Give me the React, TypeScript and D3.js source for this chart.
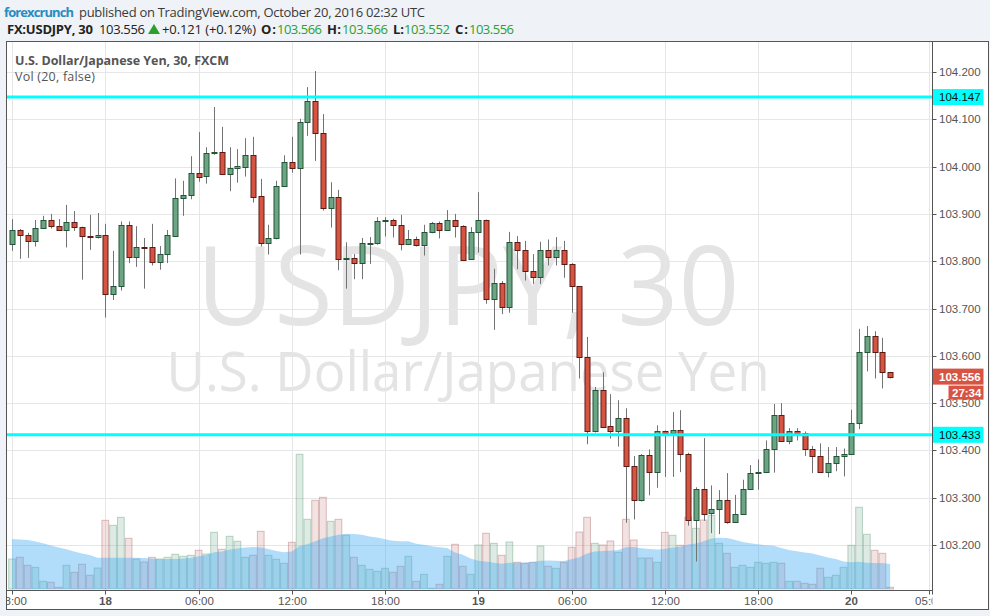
import React from 'react';
import * as d3 from 'd3';

const W = 990;
const H = 616;
const START = Date.UTC(2016, 9, 17, 18, 0);
const BAR_MS = 30 * 60 * 1000;

const openP = [
  103.836, 103.865, 103.855, 103.842, 103.870, 103.887, 103.874, 103.865, 103.882, 103.872, 103.853, 103.851,
  103.855, 103.730, 103.747, 103.876, 103.808, 103.829, 103.829, 103.798, 103.815, 103.854, 103.933, 103.939,
  103.986, 103.980, 104.028, 104.030, 103.985, 103.996, 104.000, 104.024, 103.937, 103.839, 103.848, 103.958,
  104.010, 103.996, 104.094, 104.138, 104.070, 103.912, 103.935, 103.804, 103.806, 103.797, 103.838, 103.838,
  103.884, 103.887, 103.876, 103.836, 103.846, 103.834, 103.861, 103.880, 103.865, 103.887, 103.874, 103.804,
  103.861, 103.887, 103.720, 103.753, 103.703, 103.840, 103.823, 103.779, 103.767, 103.823, 103.808, 103.823,
  103.794, 103.747, 103.597, 103.440, 103.527, 103.451, 103.440, 103.468, 103.366, 103.295, 103.390, 103.354,
  103.440, 103.437, 103.443, 103.392, 103.252, 103.318, 103.267, 103.276, 103.295, 103.248, 103.265, 103.318,
  103.352, 103.354, 103.402, 103.474, 103.419, 103.440, 103.436, 103.402, 103.388, 103.354, 103.373, 103.388,
  103.392, 103.457, 103.607, 103.641, 103.607, 103.566,
];
const highP = [
  103.889, 103.868, 103.860, 103.887, 103.896, 103.900, 103.889, 103.919, 103.906, 103.873, 103.898, 103.902,
  103.879, 103.822, 103.884, 103.884, 103.874, 103.849, 103.879, 103.832, 103.866, 103.975, 103.970, 104.022,
  104.073, 104.041, 104.126, 104.084, 104.041, 104.037, 104.060, 104.063, 103.974, 103.877, 103.970, 104.024,
  104.063, 104.101, 104.168, 104.202, 104.111, 103.967, 103.951, 103.840, 103.815, 103.849, 103.851, 103.893,
  103.893, 103.890, 103.898, 103.866, 103.852, 103.877, 103.883, 103.884, 103.908, 103.900, 103.876, 103.872,
  103.946, 103.888, 103.784, 103.758, 103.862, 103.853, 103.843, 103.815, 103.841, 103.846, 103.851, 103.843,
  103.796, 103.747, 103.640, 103.534, 103.565, 103.519, 103.506, 103.489, 103.388, 103.392, 103.402, 103.453,
  103.442, 103.481, 103.485, 103.395, 103.322, 103.426, 103.326, 103.316, 103.352, 103.306, 103.338, 103.369,
  103.381, 103.421, 103.498, 103.500, 103.447, 103.447, 103.440, 103.409, 103.415, 103.407, 103.407, 103.404,
  103.486, 103.657, 103.663, 103.652, 103.638, 103.566,
];
const lowP = [
  103.822, 103.805, 103.807, 103.831, 103.868, 103.869, 103.864, 103.829, 103.864, 103.761, 103.824, 103.848,
  103.681, 103.718, 103.738, 103.796, 103.788, 103.742, 103.791, 103.782, 103.796, 103.852, 103.896, 103.931,
  103.968, 103.964, 104.025, 103.983, 103.948, 103.966, 103.979, 103.924, 103.831, 103.814, 103.846, 103.957,
  103.987, 103.814, 104.065, 104.012, 103.907, 103.871, 103.781, 103.742, 103.762, 103.762, 103.794, 103.835,
  103.852, 103.850, 103.823, 103.834, 103.831, 103.812, 103.859, 103.848, 103.864, 103.850, 103.801, 103.803,
  103.818, 103.710, 103.655, 103.688, 103.691, 103.783, 103.759, 103.752, 103.752, 103.791, 103.791, 103.765,
  103.691, 103.552, 103.413, 103.438, 103.448, 103.425, 103.408, 103.247, 103.254, 103.292, 103.305, 103.321,
  103.344, 103.344, 103.354, 103.241, 103.165, 103.251, 103.225, 103.223, 103.245, 103.247, 103.264, 103.317,
  103.317, 103.353, 103.353, 103.418, 103.413, 103.421, 103.388, 103.352, 103.353, 103.343, 103.356, 103.345,
  103.391, 103.445, 103.567, 103.552, 103.531, 103.552,
];
const closeP = [
  103.865, 103.855, 103.842, 103.870, 103.887, 103.874, 103.865, 103.882, 103.872, 103.853, 103.851, 103.855,
  103.730, 103.747, 103.876, 103.808, 103.829, 103.828, 103.798, 103.815, 103.855, 103.934, 103.939, 103.986,
  103.979, 104.028, 104.031, 103.985, 103.996, 104.001, 104.024, 103.936, 103.839, 103.848, 103.958, 104.010,
  103.996, 104.094, 104.138, 104.070, 103.912, 103.935, 103.804, 103.806, 103.797, 103.838, 103.839, 103.884,
  103.887, 103.876, 103.836, 103.846, 103.834, 103.861, 103.880, 103.865, 103.887, 103.874, 103.803, 103.861,
  103.887, 103.720, 103.753, 103.703, 103.840, 103.823, 103.779, 103.767, 103.823, 103.808, 103.823, 103.794,
  103.747, 103.597, 103.440, 103.527, 103.450, 103.440, 103.468, 103.366, 103.295, 103.390, 103.354, 103.440,
  103.437, 103.443, 103.392, 103.252, 103.318, 103.266, 103.276, 103.295, 103.248, 103.265, 103.318, 103.352,
  103.354, 103.402, 103.474, 103.419, 103.440, 103.436, 103.402, 103.388, 103.354, 103.373, 103.388, 103.392,
  103.457, 103.607, 103.641, 103.607, 103.565, 103.556,
];
const volume = [
  300, 317, 237, 217, 77, 67, 17, 237, 167, 247, 137, 210,
  687, 637, 717, 507, 300, 270, 317, 300, 317, 347, 327, 337,
  387, 350, 567, 397, 527, 477, 317, 337, 577, 337, 297, 257,
  467, 1347, 697, 887, 917, 677, 697, 537, 317, 237, 197, 177,
  207, 167, 227, 327, 77, 147, 7, 47, 327, 447, 227, 147,
  440, 557, 457, 337, 470, 267, 257, 267, 430, 227, 207, 267,
  417, 570, 717, 457, 440, 480, 367, 697, 490, 310, 310, 267,
  567, 537, 437, 717, 607, 690, 737, 457, 357, 217, 237, 217,
  267, 257, 267, 257, 77, 77, 57, 47, 207, 117, 137, 217,
  437, 817, 547, 387, 357, 17,
];
// Vol MA(20) values at the first bars (history before the visible window)
const volMAHead = [500, 495, 490, 475, 457, 435, 415, 397, 375, 355, 340, 313, 313, 313, 313, 313, 313, 310, 305];
const MA_LEN = 20;

const priceTicks = [103.2, 103.3, 103.4, 103.5, 103.6, 103.7, 103.8, 103.9, 104.0, 104.1, 104.2];
const timeTicks = [
  { t: Date.UTC(2016, 9, 17, 18), label: '18:00', bold: false },
  { t: Date.UTC(2016, 9, 18, 0), label: '18', bold: true },
  { t: Date.UTC(2016, 9, 18, 6), label: '06:00', bold: false },
  { t: Date.UTC(2016, 9, 18, 12), label: '12:00', bold: false },
  { t: Date.UTC(2016, 9, 18, 18), label: '18:00', bold: false },
  { t: Date.UTC(2016, 9, 19, 0), label: '19', bold: true },
  { t: Date.UTC(2016, 9, 19, 6), label: '06:00', bold: false },
  { t: Date.UTC(2016, 9, 19, 12), label: '12:00', bold: false },
  { t: Date.UTC(2016, 9, 19, 18), label: '18:00', bold: false },
  { t: Date.UTC(2016, 9, 20, 0), label: '20', bold: true },
  { t: Date.UTC(2016, 9, 20, 5), label: '05:00', bold: false },
];
const levelLines = [104.147, 103.433];
const lastPrice = 103.556;
const countdown = '27:34';

const headerSegments = [
  { text: 'FX:USDJPY, 30', x: 7, len: 86, weight: 700, color: '#222' },
  { text: '103.556', x: 99, len: 46, weight: 400, color: '#222' },
  { text: '+0.121 (+0.12%)', x: 162, len: 94, weight: 400, color: '#222' },
  { text: 'O:', x: 261, len: 15, weight: 700, color: '#222' },
  { text: '103.566', x: 277, len: 45, weight: 400, color: '#2ca02c' },
  { text: 'H:', x: 327, len: 14, weight: 700, color: '#222' },
  { text: '103.566', x: 342, len: 46, weight: 400, color: '#2ca02c' },
  { text: 'L:', x: 393, len: 11, weight: 700, color: '#222' },
  { text: '103.552', x: 404, len: 46, weight: 400, color: '#2ca02c' },
  { text: 'C:', x: 455, len: 13, weight: 700, color: '#222' },
  { text: '103.556', x: 469, len: 45, weight: 400, color: '#2ca02c' },
];

const PL = 6.5;   // pane left
const PT = 41.5;  // pane top
const PR = 932.5; // plot right / price axis line
const AR = 988.5; // pane right
const PB = 590.5; // plot bottom / time axis line
const BB = 609.5; // pane bottom

const UP = '#6ba583';
const UP_B = '#225437';
const DN = '#d75442';
const DN_B = '#5b1a13';
const WICK = '#737375';
const AXF = '"Liberation Sans", Arial, sans-serif';
const HF = '"Open Sans", "Noto Sans", sans-serif';

export default function App() {
  const x = d3
    .scaleTime()
    .domain([new Date(Date.UTC(2016, 9, 18)), new Date(Date.UTC(2016, 9, 20))])
    .range([105.3, 851.3]);
  const y = d3.scaleLinear().domain([103.2, 104.2]).range([545, 72]);
  const yv = d3.scaleLinear().domain([0, 1000]).range([589, 489]);

  const bars = openP.map((o, i) => ({
    t: new Date(START + i * BAR_MS),
    o,
    h: highP[i],
    l: lowP[i],
    c: closeP[i],
    v: volume[i],
  }));
  const step = x(new Date(START + BAR_MS)) - x(new Date(START));

  const ma = bars.map((b, i) =>
    i < volMAHead.length ? volMAHead[i] : (d3.mean(volume.slice(i - MA_LEN + 1, i + 1)) as number)
  );
  const maArea = d3
    .area<number>()
    .x((d, i) => x(bars[i].t))
    .y0(yv(0))
    .y1((d) => yv(d));

  return (
    <div style={{ position: 'fixed', left: 0, top: 0, width: W, height: H }}>
      <svg width={W} height={H} style={{ display: 'block' }}>
        <defs>
          <clipPath id="plotClip">
            <rect x={PL} y={PT} width={PR - PL} height={PB - PT} />
          </clipPath>
          <clipPath id="timeClip">
            <rect x={PL} y={PB} width={PR - PL} height={BB - PB} />
          </clipPath>
        </defs>
        <rect x={0} y={0} width={W} height={H} fill="#eff2f6" />
        <rect x={PL} y={PT} width={AR - PL} height={BB - PT} fill="#ffffff" />

        {/* header */}
        <text x={4} y={16.5} fontFamily={HF} fontSize={13} fontWeight={700} fill="#2a8cbf" textLength={70} lengthAdjust="spacing">
          forexcrunch
        </text>
        <text x={79} y={16.5} fontFamily={HF} fontSize={13} fill="#3a3a3a" textLength={346} lengthAdjust="spacing">
          published on TradingView.com, October 20, 2016 02:32 UTC
        </text>
        {headerSegments.map((s, i) => (
          <text key={i} x={s.x} y={34} fontFamily={HF} fontSize={13} fontWeight={s.weight} fill={s.color} textLength={s.len} lengthAdjust="spacing">
            {s.text}
          </text>
        ))}
        <path d="M148,34 L160,34 L154,24 Z" fill="#2ca02c" />

        <g clipPath="url(#plotClip)">
          {/* watermark */}
          <text x={468} y={325} textAnchor="middle" fontFamily={HF} fontSize={110} fill="#e4e4e4" textLength={543} lengthAdjust="spacingAndGlyphs">
            USDJPY, 30
          </text>
          <text x={468} y={391} textAnchor="middle" fontFamily={HF} fontSize={55} fill="#e4e4e4" textLength={603} lengthAdjust="spacingAndGlyphs">
            U.S. Dollar/Japanese Yen
          </text>

          {/* grid */}
          {priceTicks.map((p) => (
            <line key={'gh' + p} x1={PL} x2={PR} y1={Math.round(y(p)) + 0.5} y2={Math.round(y(p)) + 0.5} stroke="#e6e6e6" />
          ))}
          {timeTicks.map((tk, i) => (
            <line key={'gv' + i} x1={Math.round(x(new Date(tk.t))) + 0.5} x2={Math.round(x(new Date(tk.t))) + 0.5} y1={PT} y2={PB} stroke="#e6e6e6" />
          ))}

          {/* volume bars */}
          {bars.map((b, i) => {
            const up = b.c >= b.o;
            const cx = x(b.t);
            return (
              <rect
                key={'v' + i}
                x={cx - step / 2 + 0.5}
                y={yv(b.v)}
                width={step - 1}
                height={yv(0) - yv(b.v)}
                fill={up ? 'rgba(107,165,131,0.22)' : 'rgba(190,110,110,0.2)'}
                stroke={up ? 'rgba(107,165,131,0.45)' : 'rgba(170,100,100,0.4)'}
                strokeWidth={1}
              />
            );
          })}
          {/* volume MA */}
          <path d={maArea(ma) || ''} fill="rgba(60,170,245,0.4)" />

          {/* candles */}
          {bars.map((b, i) => {
            const up = b.c >= b.o;
            const cx = Math.round(x(b.t));
            const top = Math.round(y(Math.max(b.o, b.c)));
            const bot = Math.round(y(Math.min(b.o, b.c)));
            return (
              <g key={'c' + i}>
                <line x1={cx + 0.5} x2={cx + 0.5} y1={y(b.h)} y2={y(b.l)} stroke={WICK} strokeWidth={1} />
                <rect
                  x={cx - 2}
                  y={top + 0.5}
                  width={5}
                  height={Math.max(1, bot - top)}
                  fill={up ? UP : DN}
                  stroke={up ? UP_B : DN_B}
                  strokeWidth={1}
                />
              </g>
            );
          })}

          {/* horizontal levels */}
          {levelLines.map((p) => (
            <line key={'lv' + p} x1={PL} x2={PR} y1={y(p)} y2={y(p)} stroke="#00ffff" strokeWidth={3} />
          ))}
        </g>

        {/* pane legend */}
        <text x={15} y={64.5} fontFamily={HF} fontSize={12.5} fontWeight={700} fill="#555" textLength={214} lengthAdjust="spacing">
          U.S. Dollar/Japanese Yen, 30, FXCM
        </text>
        <text x={15} y={81} fontFamily={HF} fontSize={12.5} fill="#555" textLength={80} lengthAdjust="spacing">
          Vol (20, false)
        </text>

        {/* price axis */}
        {priceTicks.map((p) => (
          <g key={'pt' + p}>
            <line x1={PR} x2={PR + 4} y1={Math.round(y(p)) + 0.5} y2={Math.round(y(p)) + 0.5} stroke="#555" />
            <text x={939} y={y(p) + 4} fontFamily={AXF} fontSize={11.5} fill="#555">
              {d3.format('.3f')(p)}
            </text>
          </g>
        ))}
        {levelLines.map((p) => (
          <g key={'lb' + p}>
            <rect x={PR} y={y(p) - 8} width={51} height={16} fill="#00ffff" />
            <text x={939} y={y(p) + 4} fontFamily={AXF} fontSize={11.5} fill="#111">
              {d3.format('.3f')(p)}
            </text>
          </g>
        ))}
        <rect x={PR} y={y(lastPrice) - 8} width={51} height={16} fill="#d75442" />
        <text x={939} y={y(lastPrice) + 4} fontFamily={AXF} fontSize={11.5} fontWeight={700} fill="#fff">
          {d3.format('.3f')(lastPrice)}
        </text>
        <rect x={948.5} y={y(lastPrice) + 9} width={35} height={14} fill="#d75442" />
        <text x={952} y={y(lastPrice) + 20} fontFamily={AXF} fontSize={11.5} fontWeight={700} fill="#fff">
          {countdown}
        </text>

        {/* time axis */}
        <g clipPath="url(#timeClip)">
          {timeTicks.map((tk, i) => {
            const tx = Math.round(x(new Date(tk.t))) + 0.5;
            return (
              <g key={'tt' + i}>
                <line x1={tx} x2={tx} y1={PB} y2={PB + 4} stroke="#555" />
                <text x={tx} y={605} textAnchor="middle" fontFamily={AXF} fontSize={11.5} fontWeight={tk.bold ? 700 : 400} fill="#555">
                  {tk.label}
                </text>
              </g>
            );
          })}
        </g>

        {/* frame */}
        <line x1={PL} x2={PR} y1={PB} y2={PB} stroke="#555" />
        <line x1={PR} x2={PR} y1={PT} y2={PB + 4} stroke="#555" />
        <rect x={PL} y={PT} width={AR - PL} height={BB - PT} fill="none" stroke="#555" />
      </svg>
    </div>
  );
}
